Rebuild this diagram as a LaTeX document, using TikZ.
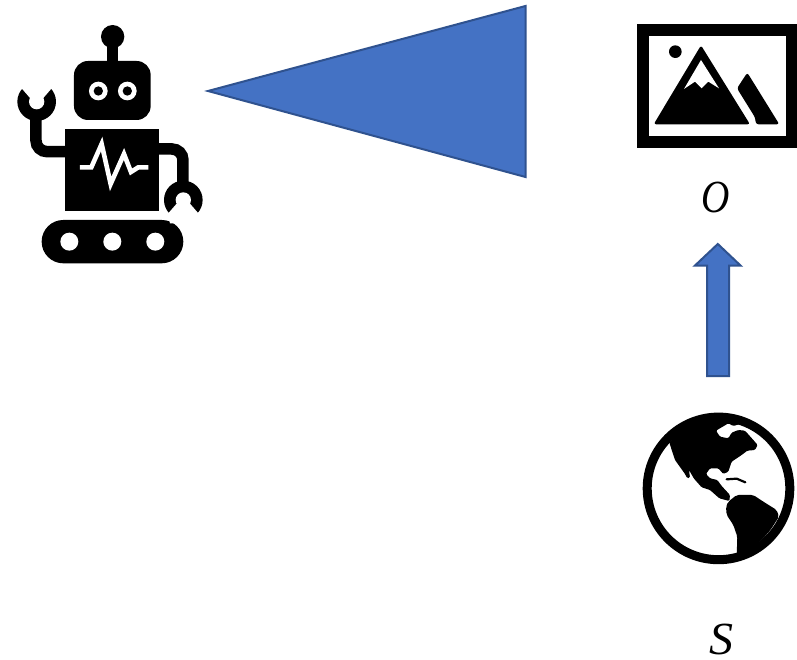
\documentclass[tikz,border=0pt]{standalone}
\usepackage{fontspec}
\setmainfont{Liberation Serif}
\definecolor{blfill}{HTML}{4472C4}
\definecolor{blline}{HTML}{2F528F}
\tikzset{
  bluearrow/.style={fill=blfill,draw=blline,line width=2pt,line join=miter},
  ink/.style={fill=black,draw=none},
  hole/.style={fill=white,draw=none},
  mathlabel/.style={inner sep=0pt,transform shape,font=\fontsize{40}{44}\selectfont\itshape},
  armline/.style={draw=black,line width=11.5pt,rounded corners=11pt},
  zoomed/.style={x=0.3333pt,y=-0.3333pt}
}
\begin{document}
\begin{tikzpicture}[x=1pt,y=-1pt]
\useasboundingbox (0,0) rectangle (797,660);
\fill[white] (0,0) rectangle (797,660);

% cone and arrow
\draw[bluearrow] (208,91) -- (525.5,6) -- (525.5,177) -- cycle;
\draw[bluearrow] (717.8,244) -- (740.5,265.5) -- (729,265.5) -- (729,376) -- (707,376) -- (707,265.5) -- (695,265.5) -- cycle;

% robot, in the coordinates of a 3x crop at (0,10)
\begin{scope}[shift={(0,10)},zoomed]
  \fill[ink] (338,80) circle[radius=35];
  \fill[ink] (320,100) rectangle (355,160);
  \fill[ink,rounded corners=14pt] (222,153) rectangle (452,330);
  \fill[hole] (295,243) circle[radius=28];
  \fill[ink] (295,243) circle[radius=14];
  \fill[hole] (382,243) circle[radius=28];
  \fill[ink] (382,243) circle[radius=14];
  \fill[ink] (196,356) rectangle (478,603);
  \draw[draw=white,line width=4.6pt,line join=miter,miter limit=8,fill=none]
    (240,472) -- (274,472) -- (305,402) -- (332,522) -- (372,432) -- (393,486) -- (415,472) -- (445,472);
  % treads
  \fill[ink,rounded corners=21.6pt] (125,630) rectangle (550,760);
  \fill[hole] (208,695) circle[radius=27];
  \fill[hole] (337,695) circle[radius=27];
  \fill[hole] (466,695) circle[radius=27];
  % left arm
  \draw[armline] (200,425) -- (108,425) -- (108,300);
  \fill[ink] (110,275) circle[radius=58];
  \fill[hole] (64,234) -- (90,264) -- (130,264) -- (156,234) -- (150,205) -- (70,205) -- cycle;
  \fill[hole] (110,275) circle[radius=23];
  % right arm
  \draw[armline] (475,417) -- (549,417) -- (549,540);
  \fill[ink] (550,570) circle[radius=58];
  \fill[hole] (504,611) -- (530,581) -- (570,581) -- (596,611) -- (590,640) -- (510,640) -- cycle;
  \fill[hole] (550,570) circle[radius=23];
\end{scope}

% picture icon, in the coordinates of a 3x crop at (620,10)
\begin{scope}[shift={(620,10)},zoomed]
  \fill[ink] (52,42) rectangle (531,415);
  \fill[hole] (88,78) rectangle (497,378);
  \fill[ink] (166,125) circle[radius=19];
  \fill[ink,rounded corners=2.5pt] (243,106) -- (390,343) -- (101,343) -- cycle;
  \fill[hole] (243,150) -- (297,235) -- (265,215) -- (245,235) -- (225,215) -- (192,237) -- cycle;
  \fill[ink,rounded corners=2.5pt] (382,188) -- (478,343) -- (408,343) -- (405,322) -- (351,235) -- cycle;
\end{scope}

% globe, in the coordinates of a 3x crop at (630,400)
\draw[draw=black,line width=9pt] (718.5,488.4) circle[radius=71.3];
\begin{scope}[shift={(630,400)},zoomed]
  \fill[ink,rounded corners=1.2pt]
    (118,128) -- (135,180) -- (165,222) -- (172,235) -- (180,233) -- (177,210)
    -- (192,236) -- (215,262) -- (240,270) -- (268,295) -- (298,303)
    -- (300,285) -- (275,258) -- (262,240) -- (240,235) -- (228,222) -- (240,205)
    -- (265,205) -- (280,222) -- (295,215) -- (305,185) -- (335,165) -- (352,152)
    -- (375,150) -- (383,135) -- (370,120) -- (345,92) -- (325,90) -- (305,98)
    -- (295,115) -- (270,110) -- (258,92) -- (295,70) -- (310,78) -- (330,72)
    -- (335,60) -- (296,45) -- (230,50) -- (170,75) -- cycle;
  \fill[ink,rounded corners=2pt]
    (295,305) -- (320,285) -- (370,285) -- (400,305) -- (440,330) -- (447,350)
    -- (420,392) -- (395,420) -- (348,458) -- (320,470) -- (322,410) -- (310,375)
    -- (290,345) -- (288,320) -- cycle;
  \draw[draw=black,line width=2.2pt,line cap=round] (290,238) -- (320,236) -- (346,247);
\end{scope}

\node[mathlabel,xscale=0.98,yscale=1.15] (obs) at (715.7,197) {O};
\node[mathlabel,xscale=1.2,yscale=1.15] (state) at (721,639) {S};
\end{tikzpicture}
\end{document}
